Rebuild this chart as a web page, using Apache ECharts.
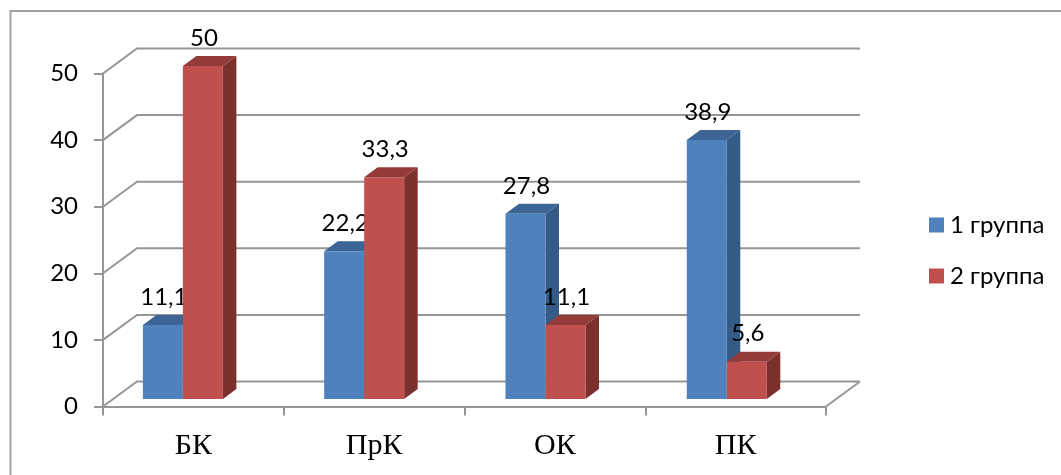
<!DOCTYPE html>
<html>
<head>
<meta charset="utf-8">
<style>html,body{margin:0;padding:0;background:#fff}#c{width:1061px;height:475px}</style>
<script src="https://cdn.jsdelivr.net/npm/echarts@6/dist/echarts.min.js"></script>
</head>
<body>
<div id="c"></div>
<script>
const categories = ['БК', 'ПрК', 'ОК', 'ПК'];
const group1 = [11.1, 22.2, 27.8, 38.9];
const group2 = [50, 33.3, 11.1, 5.6];
const seriesNames = ['1 группа', '2 группа'];
const yTicks = [0, 10, 20, 30, 40, 50];

const palette = [
  { face: '#4f81bd', top: '#3c6595', side: '#345a86' },
  { face: '#c0504d', top: '#943c3a', side: '#7c302e' }
];
const gridColor = '#969696';
const wallDepth = [34, -25];
const barDepth = [13.5, -10];
const floorShift = [-10.5, -7.5];
const floorSpread = 0.55;
const barWidth = 40;
const labelFont = 'Lato, "Open Sans", sans-serif';

// Draws one 3D column: front face, top and right side, with its value label.
function columnItem(seriesIdx, values) {
  return function (params, api) {
    const i = api.value(0);
    const value = values[i];
    const base = api.coord([i, 0]);
    const top = api.coord([i, value]);
    const x0 = base[0] + floorShift[0] + i * floorSpread + (seriesIdx - 1) * barWidth;
    const x1 = x0 + barWidth;
    const y0 = base[1] + floorShift[1];
    const y1 = top[1] + floorShift[1];
    const dx = barDepth[0], dy = barDepth[1];
    const c = palette[seriesIdx];
    return {
      type: 'group',
      children: [
        { type: 'polygon', shape: { points: [[x1, y0], [x1 + dx, y0 + dy], [x1 + dx, y1 + dy], [x1, y1]] }, style: { fill: c.side } },
        { type: 'polygon', shape: { points: [[x0, y1], [x0 + dx, y1 + dy], [x1 + dx, y1 + dy], [x1, y1]] }, style: { fill: c.top } },
        { type: 'rect', shape: { x: x0, y: y1, width: barWidth, height: y0 - y1 }, style: { fill: c.face } },
        { type: 'text', z2: 50, style: {
            x: x0 + barWidth / 2 + 1, y: y1 - 28,
            text: String(value).replace('.', ','),
            fill: '#000', font: '24px ' + labelFont, align: 'center', verticalAlign: 'middle'
        } }
      ]
    };
  };
}

// Draws the back wall gridlines and the slanted floor/side edges.
function wallItem(params, api) {
  const v = api.value(1);
  const band = api.size([1, 0])[0];
  const mid = api.coord([0, v]);
  const left = [mid[0] - band / 2, mid[1]];
  const right = [left[0] + band * categories.length, mid[1]];
  const dx = wallDepth[0], dy = wallDepth[1];
  const line = { stroke: gridColor, lineWidth: 2 };
  const kids = [
    { type: 'polyline', shape: { points: [left, [left[0] + dx, left[1] + dy], [right[0] + dx, right[1] + dy]] }, style: { fill: 'none', ...line } }
  ];
  if (v === 0) {
    kids.push({ type: 'polyline', shape: { points: [right, [right[0] + dx, right[1] + dy]] }, style: { fill: 'none', ...line } });
  }
  return { type: 'group', children: kids };
}

const option = {
  animation: false,
  backgroundColor: '#fff',
  graphic: [{
    type: 'polyline',
    shape: { points: [[10.5, 475], [10.5, 11], [1061, 11]] },
    style: { fill: 'none', stroke: '#a0a0a0', lineWidth: 2 }
  }],
  grid: { left: 103, width: 723, top: 73.5, height: 333 },
  legend: {
    orient: 'vertical', left: 924, top: 208, itemWidth: 15, itemHeight: 15, itemGap: 27,
    icon: 'rect',
    textStyle: { fontFamily: labelFont, fontSize: 24, lineHeight: 21, color: '#000', padding: [0, 0, 0, 1] },
    data: seriesNames
  },
  xAxis: {
    type: 'category', data: categories, boundaryGap: true,
    axisLine: { lineStyle: { color: gridColor, width: 2 } },
    axisTick: { show: true, length: 9, alignWithLabel: false, lineStyle: { color: gridColor, width: 2 } },
    axisLabel: { fontFamily: '"Liberation Serif", serif', fontSize: 30, color: '#000', margin: 25 }
  },
  yAxis: {
    type: 'value', min: 0, max: 50, interval: 10,
    splitLine: { show: false },
    axisLine: { show: true, lineStyle: { color: gridColor, width: 2 } },
    axisTick: { show: true, length: 9, lineStyle: { color: gridColor, width: 2 } },
    axisLabel: { fontFamily: labelFont, fontSize: 24, color: '#000', margin: 25 }
  },
  series: [
    { type: 'custom', silent: true, z: 1, renderItem: wallItem, data: yTicks.map(v => [0, v]), encode: { x: 0, y: 1 } },
    { type: 'custom', name: seriesNames[0], z: 2, itemStyle: { color: palette[0].face }, renderItem: columnItem(0, group1), data: categories.map((c, i) => [i, group1[i]]), encode: { x: 0, y: 1 } },
    { type: 'custom', name: seriesNames[1], z: 3, itemStyle: { color: palette[1].face }, renderItem: columnItem(1, group2), data: categories.map((c, i) => [i, group2[i]]), encode: { x: 0, y: 1 } }
  ]
};
echarts.init(document.getElementById('c'), null, { renderer: 'canvas' }).setOption(option);
</script>
</body>
</html>
